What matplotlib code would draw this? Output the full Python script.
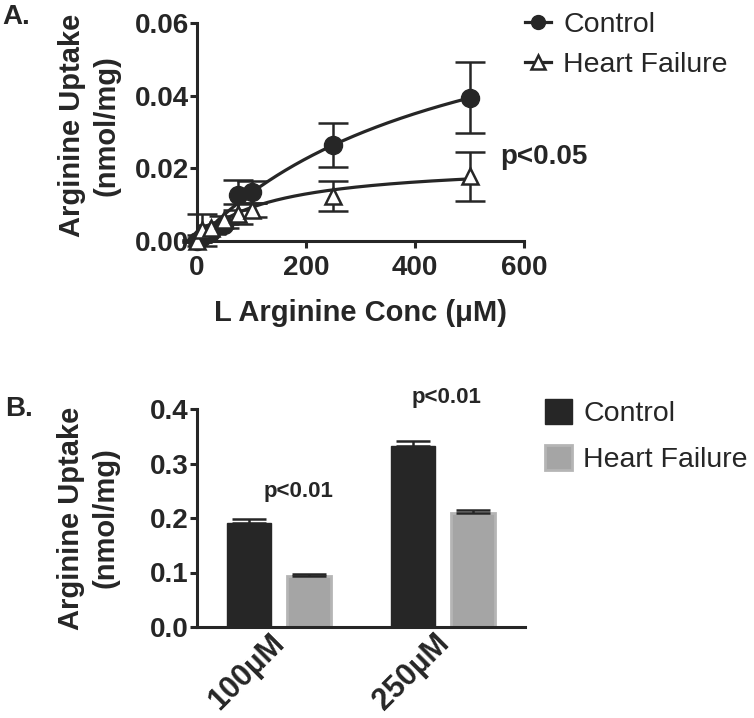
import numpy as np
import matplotlib
matplotlib.use("Agg")
import matplotlib.pyplot as plt
from matplotlib.patches import Patch
from matplotlib.lines import Line2D
import matplotlib.transforms as mtransforms

# ---------------- data ----------------
# Panel A: uptake vs L-arginine concentration
conc = [0, 10, 25, 50, 75, 100, 250, 500]
control_uptake = [0.0000, 0.0012, 0.0026, 0.0045, 0.0127, 0.0134, 0.0264, 0.0394]
control_sem = [0.0002, 0.0005, 0.0006, 0.0008, 0.0042, 0.0030, 0.0061, 0.0098]
hf_uptake = [0.0000, 0.0030, 0.0036, 0.0058, 0.0075, 0.0085, 0.0124, 0.0178]
hf_sem = [0.0002, 0.0045, 0.0008, 0.0010, 0.0028, 0.0019, 0.0042, 0.0067]
# Michaelis-Menten fit parameters (Vmax, Km)
control_fit = (0.0775, 484.0)
hf_fit = (0.0217, 135.0)
a_xticks = [0, 200, 400, 600]
a_yticks = [0.00, 0.02, 0.04, 0.06]
a_ylabels = ["0.00", "0.02", "0.04", "0.06"]

# Panel B: uptake at two concentrations
b_groups = ["100\u00b5M", "250\u00b5M"]
b_control = [0.191, 0.332]
b_control_err = [0.007, 0.009]
b_hf = [0.094, 0.209]
b_hf_err = [0.003, 0.005]
b_yticks = [0.0, 0.1, 0.2, 0.3, 0.4]
b_ylabels = ["0.0", "0.1", "0.2", "0.3", "0.4"]

# ---------------- style ----------------
TXT = "#262626"
plt.rcParams["font.family"] = ["Liberation Sans", "DejaVu Sans"]
plt.rcParams["text.color"] = TXT
plt.rcParams["axes.labelcolor"] = TXT
plt.rcParams["xtick.color"] = TXT
plt.rcParams["ytick.color"] = TXT

W, H = 754, 718
fig = plt.figure(figsize=(W / 100, H / 100), dpi=100)

def px_axes(l, t, r, b):
    return fig.add_axes([l / W, 1 - b / H, (r - l) / W, (b - t) / H])

def style_axes(ax):
    for s in ["top", "right"]:
        ax.spines[s].set_visible(False)
    for s in ["left", "bottom"]:
        ax.spines[s].set_linewidth(2.2)
        ax.spines[s].set_color(TXT)
    ax.tick_params(width=2.2, length=5, labelsize=20)
    for lab in ax.get_xticklabels() + ax.get_yticklabels():
        lab.set_fontweight("bold")

# ---------------- Panel A ----------------
axA = px_axes(197, 23, 524, 241)
axA.set_xlim(0, 600)
axA.set_ylim(0, 0.06)

xs = np.linspace(0, max(conc), 300)
vmax, km = control_fit
axA.plot(xs, vmax * xs / (km + xs), color=TXT, lw=2.3, zorder=2)
vmax, km = hf_fit
axA.plot(xs, vmax * xs / (km + xs), color=TXT, lw=2.3, zorder=2)

axA.errorbar(conc, control_uptake, yerr=control_sem, fmt="o", ms=13,
             color=TXT, mfc=TXT, mec=TXT, ecolor=TXT, elinewidth=1.8,
             capsize=11, capthick=1.8, clip_on=False, zorder=3)
axA.errorbar(conc, hf_uptake, yerr=hf_sem, fmt="^", ms=12,
             color=TXT, mfc="white", mec=TXT, mew=1.8, ecolor=TXT,
             elinewidth=1.8, capsize=11, capthick=1.8, clip_on=False, zorder=4)

axA.set_xticks(a_xticks)
axA.set_xticklabels([str(t) for t in a_xticks])
axA.set_yticks(a_yticks)
axA.set_yticklabels(a_ylabels)
axA.tick_params(axis="y", pad=1)
axA.tick_params(axis="x", pad=5)
style_axes(axA)
axA.set_xlabel("L Arginine Conc (\u03bcM)", fontsize=21, fontweight="bold", labelpad=13)
axA.set_ylabel("Arginine Uptake\n(nmol/mg)", fontsize=21, fontweight="bold", linespacing=1.3)
axA.yaxis.set_label_coords(-0.235, 0.53)

axA.text(556, 0.0231, "p<0.05", fontsize=20, fontweight="bold",
         ha="left", va="center", clip_on=False)

legA_handles = [
    Line2D([], [], color=TXT, lw=2.3, marker="o", ms=10, mfc=TXT, mec=TXT),
    Line2D([], [], color=TXT, lw=2.3, marker="^", ms=10, mfc="white", mec=TXT, mew=1.8),
]
fig.legend(legA_handles, ["Control", "Heart Failure"], loc="upper left",
           bbox_to_anchor=(525 / W, 1 - 12 / H), frameon=False, fontsize=20.5,
           handlelength=0.9, handletextpad=0.45, labelspacing=0.5,
           borderpad=0, borderaxespad=0)

fig.text(2 / W, 1 - 4 / H, "A.", fontsize=20, fontweight="bold", ha="left", va="top")

# ---------------- Panel B ----------------
axB = px_axes(197, 409, 525, 627)
x = np.arange(len(b_groups))
bw = 0.27
off = 0.185
CTRL_C = "#262626"
HF_C = "#a5a5a5"
axB.bar(x - off, b_control, width=bw, color=CTRL_C, edgecolor=CTRL_C, lw=1, zorder=2)
axB.bar(x + off, b_hf, width=bw, color=HF_C, edgecolor="#b5b5b5", lw=2, zorder=2)
axB.errorbar(x - off, b_control, yerr=[np.zeros(len(x)), b_control_err], fmt="none",
             ecolor=CTRL_C, elinewidth=1.8, capsize=12, capthick=1.8, zorder=3)
axB.errorbar(x + off, b_hf, yerr=[np.zeros(len(x)), b_hf_err], fmt="none",
             ecolor=CTRL_C, elinewidth=1.8, capsize=12, capthick=1.8, zorder=3)
axB.set_xlim(-0.5, 1.5)
axB.set_ylim(0, 0.4)
axB.set_yticks(b_yticks)
axB.set_yticklabels(b_ylabels)
axB.set_xticks(x)
axB.set_xticklabels(b_groups, rotation=45, ha="right", fontsize=22, fontweight="bold")
axB.tick_params(axis="y", pad=1)
style_axes(axB)
axB.tick_params(axis="x", length=0, pad=0, labelsize=22)
shift = mtransforms.ScaledTranslation(12 / 100, -1 / 100, fig.dpi_scale_trans)
for lab in axB.get_xticklabels():
    lab.set_transform(lab.get_transform() + shift)
axB.set_ylabel("Arginine Uptake\n(nmol/mg)", fontsize=21, fontweight="bold", linespacing=1.3)
axB.yaxis.set_label_coords(-0.235, 0.5)

axB.text(0.116, 0.249, "p<0.01", fontsize=16, fontweight="bold", ha="center", va="center")
axB.text(1.024, 0.421, "p<0.01", fontsize=16, fontweight="bold", ha="center", va="center",
         clip_on=False)

legB_handles = [Patch(facecolor=CTRL_C, edgecolor=CTRL_C),
                Patch(facecolor=HF_C, edgecolor="#b5b5b5", lw=2)]
fig.legend(legB_handles, ["Control", "Heart Failure"], loc="upper left",
           bbox_to_anchor=(545 / W, 1 - 399 / H), frameon=False, fontsize=20.5,
           handlelength=0.95, handleheight=1.0, handletextpad=0.4, labelspacing=0.6,
           borderpad=0, borderaxespad=0)

fig.text(5 / W, 1 - 396 / H, "B.", fontsize=20, fontweight="bold", ha="left", va="top")

fig.savefig("out.png", dpi=100)
